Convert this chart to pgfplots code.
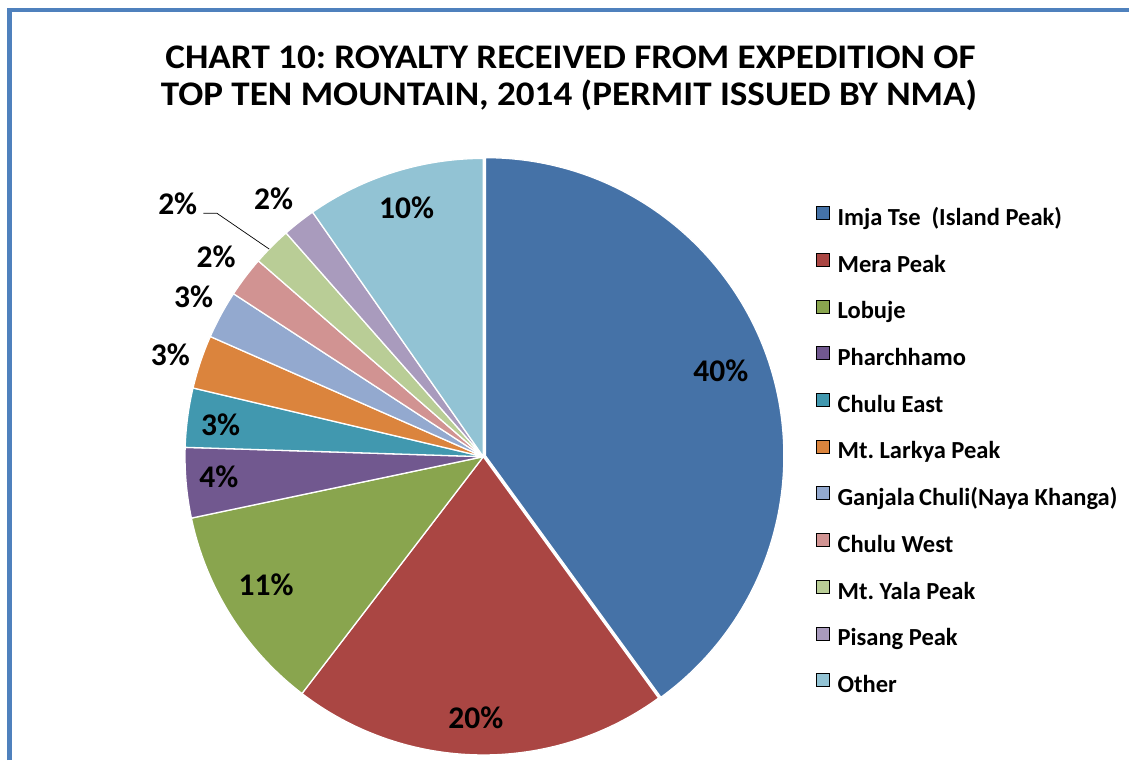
\documentclass[border=0pt]{standalone}
\usepackage{pgfplots}
\pgfplotsset{compat=1.18}
\usepackage{pgfplotstable}
\usepackage{fontspec}
\setmainfont{Carlito}
\frenchspacing

\definecolor{c1}{HTML}{4572A7}
\definecolor{c2}{HTML}{AA4643}
\definecolor{c3}{HTML}{89A54E}
\definecolor{c4}{HTML}{71588F}
\definecolor{c5}{HTML}{4198AF}
\definecolor{c6}{HTML}{DB843D}
\definecolor{c7}{HTML}{93A9CF}
\definecolor{c8}{HTML}{D19392}
\definecolor{c9}{HTML}{B9CD96}
\definecolor{c10}{HTML}{A99BBD}
\definecolor{c11}{HTML}{92C3D4}
\definecolor{framecol}{HTML}{4F81BD}

\newcommand\titlefont{\bfseries\fontsize{34.5}{40}\selectfont}
\newcommand\lblfont{\bfseries\fontsize{31.5}{36}\selectfont}
\newcommand\legfont{\bfseries\fontsize{24.5}{29}\selectfont}

% value = share in percent; lr = label radius; dang = label angle offset; ex = explode; lead = leader line
\pgfplotstableread[col sep=comma]{
name,value,col,lr,dang,ex,lead
Imja Tse\hspace{0.45em}(Island Peak),40.0,c1,0.847,1.9,0.008,0
Mera Peak,20.4,c2,0.875,-0.9,0,0
Lobuje,11.3,c3,0.846,-1.6,0,0
Pharchhamo,3.8,c4,0.889,-0.7,0,0
Chulu East,3.2,c5,0.887,0.7,0,0
Mt. Larkya Peak,2.9,c6,1.103,0.5,0,0
Ganjala\,Chuli(Naya Khanga),2.6,c7,1.11,-0.5,0,0
Chulu West,2.2,c8,1.118,0.3,0,0
Mt. Yala Peak,2.1,c9,1.33,5.2,0,1
Pisang Peak,1.8,c10,1.113,1.0,0,0
Other,9.7,c11,0.872,-0.3,0,0
}\piedata

\begin{document}
\begin{tikzpicture}[x=1pt,y=1pt]
\path[use as bounding box] (0,0) rectangle (1129,760);
\draw[framecol, line width=4.8pt] (9.5,0) -- (9.5,750) -- (1129,750);
\node[anchor=base, font=\titlefont] at (570.5,691.5) {\scalebox{1.075}[1]{CHART 10: ROYALTY RECEIVED FROM EXPEDITION OF}};
\node[anchor=base, font=\titlefont] at (569,654) {\scalebox{1.075}[1]{TOP TEN MOUNTAIN, 2014 (PERMIT ISSUED BY NMA)}};

\begin{axis}[
  at={(483.3pt,303.3pt)}, anchor=center,
  scale only axis, width=596.6pt, height=596.6pt,
  xmin=-1, xmax=1, ymin=-1, ymax=1,
  hide axis, clip=false,
  legend image code/.code={\fill[#1] (0pt,0pt) rectangle (13pt,13pt);},
  legend cell align=left,
  legend style={draw=none, fill=none, at={(1.0577,0.9202)}, anchor=north west,
    inner sep=0pt, row sep=22.5pt, column sep=8pt, font=\legfont,
    nodes={inner sep=0pt, text height=17pt, text depth=5pt}},
]
\pgfplotstablegetrowsof{\piedata}
\pgfmathtruncatemacro\lastrow{\pgfplotsretval-1}
\gdef\cum{0}
\pgfplotsforeachungrouped \row in {0,...,\lastrow}{%
  \pgfplotstablegetelem{\row}{value}\of{\piedata}\let\sv\pgfplotsretval
  \pgfplotstablegetelem{\row}{col}\of{\piedata}\let\slicecol\pgfplotsretval
  \pgfplotstablegetelem{\row}{ex}\of{\piedata}\let\sex\pgfplotsretval
  \pgfmathsetmacro\aS{90-3.6*\cum}%
  \pgfmathsetmacro\aE{90-3.6*(\cum+\sv)}%
  \pgfmathsetmacro\aM{(\aS+\aE)/2}%
  \pgfmathsetmacro\ox{\sex*cos(\aM)}%
  \pgfmathsetmacro\oy{\sex*sin(\aM)}%
  \pgfmathsetmacro\px{\ox+cos(\aS)}%
  \pgfmathsetmacro\py{\oy+sin(\aS)}%
  \edef\doit{\noexpand\fill[fill=\slicecol, draw=white, line width=1.3pt, line join=round]
    (axis cs:\ox,\oy) -- (axis cs:\px,\py) arc[start angle=\aS, end angle=\aE, radius=298.3pt] -- cycle;}%
  \doit
  \edef\doit{\noexpand\addlegendimage{fill=\slicecol}}\doit
  \pgfplotstablegetelem{\row}{name}\of{\piedata}%
  \expandafter\addlegendentry\expandafter{\pgfplotsretval}%
  \pgfmathsetmacro\cum{\cum+\sv}%
  \global\let\cum\cum
}
\gdef\cum{0}
\pgfplotsforeachungrouped \row in {0,...,\lastrow}{%
  \pgfplotstablegetelem{\row}{value}\of{\piedata}\let\sv\pgfplotsretval
  \pgfplotstablegetelem{\row}{lr}\of{\piedata}\let\slr\pgfplotsretval
  \pgfplotstablegetelem{\row}{dang}\of{\piedata}\let\sdang\pgfplotsretval
  \pgfplotstablegetelem{\row}{lead}\of{\piedata}\let\slead\pgfplotsretval
  \pgfmathsetmacro\aS{90-3.6*\cum}%
  \pgfmathsetmacro\aE{90-3.6*(\cum+\sv)}%
  \pgfmathsetmacro\aM{(\aS+\aE)/2}%
  \pgfmathsetmacro\lx{\slr*cos(\aM+\sdang)}%
  \pgfmathsetmacro\ly{\slr*sin(\aM+\sdang)}%
  \pgfmathtruncatemacro\pct{round(\sv)}%
  \edef\doit{\noexpand\node[font=\noexpand\lblfont] at (axis cs:\lx,\ly) {\pct\noexpand\%};}%
  \doit
  \ifnum\slead=1
    \pgfmathsetmacro\qx{cos(\aM+0.7)}%
    \pgfmathsetmacro\qy{sin(\aM+0.7)}%
    \pgfmathsetmacro\rx{1.21*cos(\aM+2.4)}%
    \pgfmathsetmacro\ry{1.21*sin(\aM+2.4)}%
    \pgfmathsetmacro\tx{\rx-0.045}%
    \edef\doit{\noexpand\draw[black, line width=0.7pt] (axis cs:\qx,\qy) -- (axis cs:\rx,\ry) -- (axis cs:\tx,\ry);}%
    \doit
  \fi
  \pgfmathsetmacro\cum{\cum+\sv}%
  \global\let\cum\cum
}
\end{axis}
\end{tikzpicture}
\end{document}
